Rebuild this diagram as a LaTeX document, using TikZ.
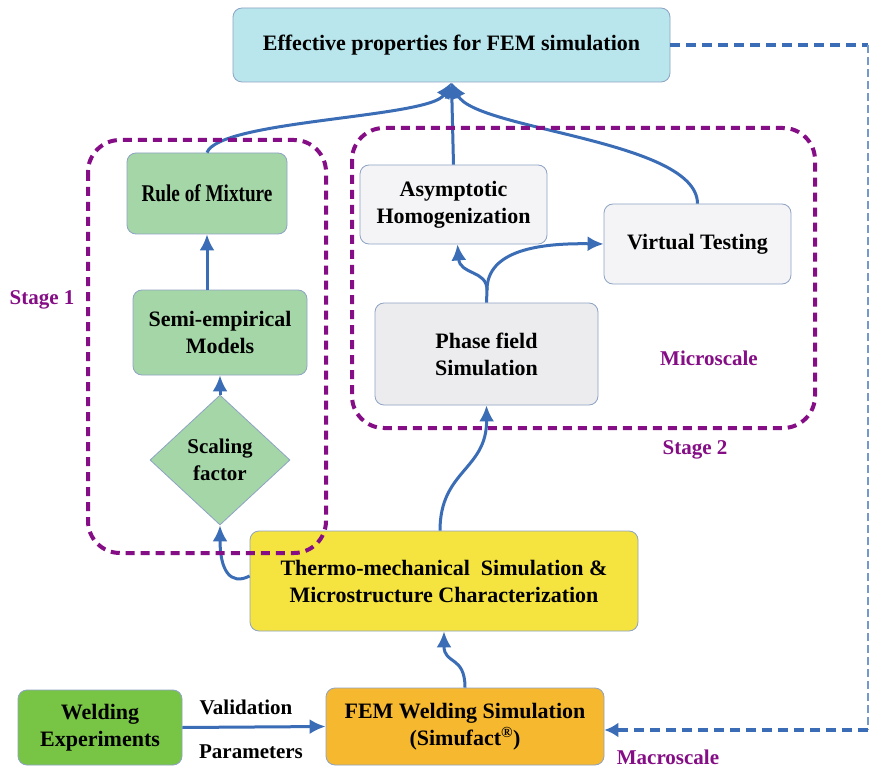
\documentclass[tikz,border=0pt]{standalone}
\usepackage{fontspec}
\setmainfont{Liberation Serif}
\usetikzlibrary{shapes.geometric,arrows.meta}
\definecolor{arrblue}{HTML}{3A6DB5}
\definecolor{purp}{HTML}{850D85}
\definecolor{boxline}{HTML}{8EA3C4}
\definecolor{cyanfill}{HTML}{B8E6EC}
\definecolor{greenfill}{HTML}{A5D6A7}
\definecolor{grayfill}{HTML}{F4F4F6}
\definecolor{grayfill2}{HTML}{ECECEE}
\definecolor{yellowfill}{HTML}{F5E33F}
\definecolor{limefill}{HTML}{78C545}
\definecolor{orangefill}{HTML}{F6B82F}
\tikzset{
  box/.style={draw=boxline, line width=0.8pt, rounded corners=9pt, align=center,
    font=\bfseries\fontsize{22}{27}\selectfont, inner sep=2pt},
  arr/.style={draw=arrblue, line width=3pt, -{Latex[length=16pt,width=15pt]}},
  stagebox/.style={draw=purp, line width=4pt, dash pattern=on 9pt off 6pt, rounded corners=32pt},
  lbl/.style={text=purp, font=\bfseries\fontsize{21}{25}\selectfont},
  blk/.style={font=\bfseries\fontsize{21}{25}\selectfont},
  fb/.style={draw=arrblue, line width=3.5pt, dash pattern=on 10pt off 6pt},
}
\begin{document}
\begin{tikzpicture}[x=1pt,y=-1pt]
\fill[white] (0,0) rectangle (873,770);
\useasboundingbox (0,0) rectangle (873,770);

% nodes
\node[box, fill=cyanfill, minimum width=437pt, minimum height=74pt] (eff) at (451.5,45) {Effective properties for FEM simulation};
\node[box, fill=greenfill, minimum width=160pt, minimum height=81pt] (rule) at (207,193.5) {\scalebox{0.8}[1]{\fontsize{24}{27}\selectfont Rule of Mixture}};
\node[box, fill=greenfill, minimum width=174pt, minimum height=85pt] (semi) at (220,332.5) {Semi-empirical\\Models};
\node[draw=boxline, line width=0.8pt, fill=greenfill, shape=diamond, minimum width=140pt, minimum height=130pt, align=center, inner sep=0pt,
  font=\bfseries\fontsize{21}{27}\selectfont] (scal) at (220,460) {Scaling\\factor};
\node[box, fill=grayfill, minimum width=187pt, minimum height=79pt] (asym) at (453.5,204.5) {Asymptotic\\Homogenization};
\node[box, fill=grayfill, minimum width=187pt, minimum height=80pt] (virt) at (697.5,244) {Virtual Testing};
\node[box, fill=grayfill2, minimum width=223pt, minimum height=102pt] (phase) at (486.5,354) {Phase field\\Simulation};
\node[box, fill=yellowfill, minimum width=388pt, minimum height=100pt] (thermo) at (444,581) {Thermo-mechanical\ \ Simulation \&\\Microstructure Characterization};
\node[box, fill=limefill, minimum width=164pt, minimum height=75pt] (weld) at (100,727.5) {Welding\\Experiments};
\node[box, fill=orangefill, minimum width=278pt, minimum height=77pt] (fem) at (465,726.5) {FEM Welding Simulation\\(Simufact\textsuperscript{\textregistered})};

% labels
\node[lbl] (st1) at (42,300) {Stage 1};
\node[lbl] (st2) at (695,450) {Stage 2};
\node[lbl] (micro) at (709,358) {Microscale};
\node[lbl] (macro) at (668,757) {Macroscale};
\node[blk] (valid) at (246,707) {Validation};
\node[blk] (param) at (251,752) {Parameters};

% arrows
\draw[arr] (rule.north) .. controls (219,120) and (430,118) .. (eff.south);
\draw[arr] (asym.north) -- (eff.south);
\draw[arr] (virt.north) .. controls (697,140) and (475,130) .. (eff.south);
\draw[arr] (semi.north -| rule.south) -- (rule.south);
\draw[arr] (scal.north) -- (semi.south);
\draw[arr] ([yshift=5pt]thermo.west) .. controls (230,586) and (220,570) .. (scal.south);
\draw[arr] ([xshift=-4pt]thermo.north) .. controls (440,470) and (487,470) .. (phase.south);
\draw[arr] (fem.north) .. controls (465,655) and (444,665) .. (thermo.south);
\coordinate (split) at (487,290);
\draw[arr] (phase.north) -- (split) .. controls (487,270) and (460,275) .. ([xshift=4pt]asym.south);
\draw[arr] (split) .. controls (487,250) and (540,243) .. (virt.west);
\draw[arr] (weld.east) -- (fem.west);

% stage boxes
\draw[stagebox] (88,140) rectangle (326,553);
\draw[stagebox] (352,128) rectangle (815,428);

% feedback
\coordinate (c1) at (868,45);
\coordinate (c2) at (868,730);
\draw[fb] (eff.east) -- (c1);
\draw[draw=arrblue!70, line width=1.3pt, dash pattern=on 8pt off 4pt] (c1) -- (c2);
\draw[fb, -{Latex[length=14pt,width=15pt]}] (c2) -- (fem.east |- c2);
\end{tikzpicture}
\end{document}
